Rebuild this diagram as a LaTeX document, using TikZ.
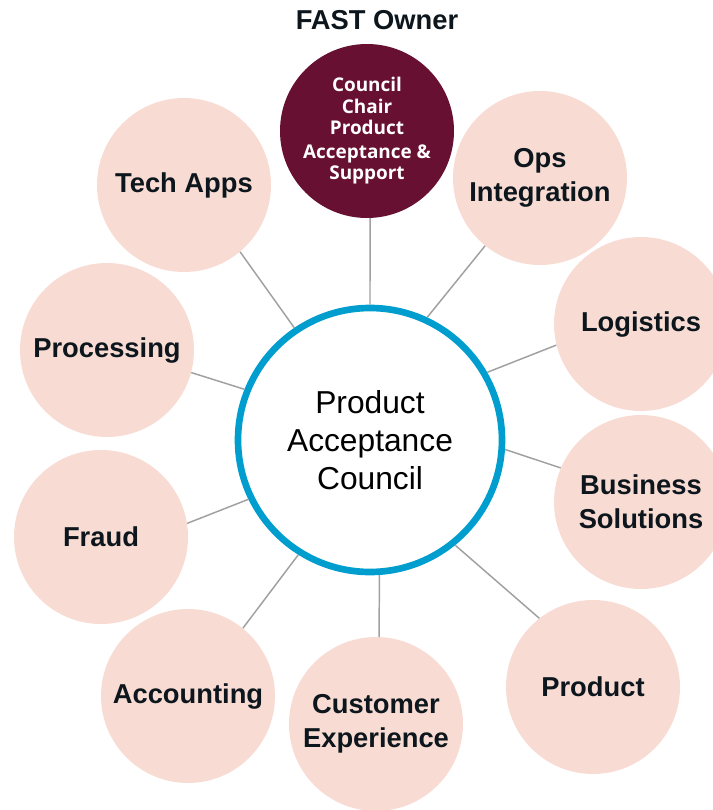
\documentclass[tikz,border=0pt]{standalone}
\usepackage{fontspec}
\setmainfont{Liberation Sans}
\newfontfamily\chairfont{Open Sans}
\definecolor{peach}{RGB}{248,220,212}
\definecolor{chairred}{RGB}{103,16,50}
\definecolor{councilblue}{RGB}{0,157,207}
\definecolor{linkgray}{RGB}{160,160,160}
\definecolor{labelink}{RGB}{12,22,28}

\begin{document}
\begin{tikzpicture}[x=0.75pt, y=-0.75pt,
    member/.style={circle, fill=peach, minimum size=130.5pt, inner sep=0pt,
        align=center, text=labelink, font=\fontsize{20.5}{25.5}\selectfont\bfseries},
    chair/.style={member, fill=chairred, text=white,
        font=\chairfont\fontsize{14.2}{16}\selectfont\bfseries},
    council/.style={circle, draw=councilblue, line width=5pt, fill=white,
        minimum size=198pt, inner sep=0pt, align=center, text=black,
        font=\fontsize{23.8}{28.5}\selectfont},
    link/.style={linkgray, line width=1.1pt}]
    % Page: 713 x 810 px
    \useasboundingbox (0,0) rectangle (713,810);
    \clip (0,0) rectangle (713,810);

    % Council in the middle
    \node[council] (council) at (370,440) {Product\\Acceptance\\Council};

    % Chair on top
    \node[chair] (chair) at (367,131) {Council\\Chair\\Product\\[2pt]Acceptance \&\\Support};
    \node[font=\fontsize{20.5}{24}\selectfont\bfseries, text=labelink] (owner) at (377,20) {FAST Owner};
    \draw[link] (council.90) -- (chair.272);

    % Members round the council (name / centre / label / spoke angles)
    \foreach \name/\x/\y/\label/\a/\b in {techapps/184/185/{Tech Apps}/124.6/-50.1,
        opsint/540/178/{Ops\\Integration}/65.5/231.5,
        logistics/641/324/{Logistics}/30.2/194.5,
        processing/107/350/{Processing}/158.3/-15.8,
        bizsol/641/502/{Business\\Solutions}/-4.3/157.2,
        fraud/101/537/{Fraud}/206.4/9.8,
        product/593/687/{Product}/-51.5/128.9,
        accounting/188/696/{Accounting}/238.7/51,
        custexp/376/724/{Customer\\Experience}/-86.7/88.7} {
        \node[member] (\name) at (\x,\y) {\label};
        \draw[link] (council.\a) -- (\name.\b);
    }
\end{tikzpicture}
\end{document}
